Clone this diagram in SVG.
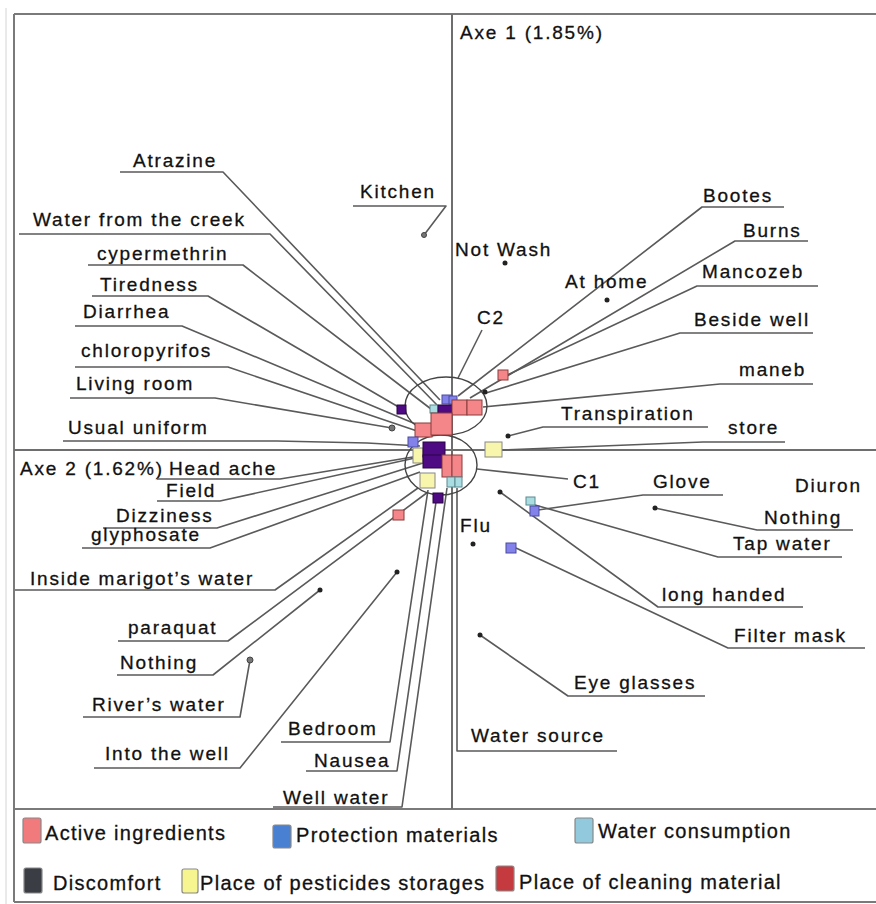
<svg xmlns="http://www.w3.org/2000/svg" width="876" height="904" viewBox="0 0 876 904">
<style>
text{font-family:"Liberation Sans",Arial,sans-serif;font-size:19px;letter-spacing:1.8px;fill:#111;stroke:#111;stroke-width:0.3px}
.lg{font-size:20px;letter-spacing:1.3px}
.frame{stroke:#7a7a7a;stroke-width:2;fill:none}
.axis{stroke:#6e6e6e;stroke-width:2;fill:none}
#connectors polyline{fill:none;stroke:#5a5a5a;stroke-width:1.6;stroke-linejoin:round}
.ell{fill:none;stroke:#444;stroke-width:1.4}
.dot{fill:#222}
.gdot{fill:#777;stroke:#444;stroke-width:1}
.pk{fill:#f4868a;stroke:#8a3a3a;stroke-width:1}
.pu{fill:#4e0a82;stroke:#2a0545;stroke-width:1}
.bl{fill:#8282ea;stroke:#4a4aa0;stroke-width:1}
.cy{fill:#a9dde2;stroke:#5a8a90;stroke-width:1}
.ye{fill:#f8f5ac;stroke:#888;stroke-width:1}
.sw{stroke:#888;stroke-width:1.2}
</style>
<line x1="6" y1="8" x2="6" y2="904" stroke="#d4d4d4" stroke-width="1"/>
<g id="frame">
<line class="frame" x1="14" y1="14" x2="876" y2="14"/>
<line class="frame" x1="14" y1="14" x2="14" y2="902"/>
<line class="frame" x1="14" y1="809" x2="876" y2="809"/>
<line class="frame" x1="14" y1="902" x2="876" y2="902"/>
<line class="axis" x1="452" y1="14" x2="452" y2="809"/>
<line class="axis" x1="14" y1="450" x2="876" y2="450"/>
<text x="460" y="39">Axe 1 (1.85%)</text>
<text x="20" y="475">Axe 2 (1.62%)</text>
</g>
<g id="connectors">
<polyline points="120,172 223,172 440,400"/>
<polyline points="353,206 446,206 424,235"/>
<polyline points="19,234 270,234 437,405"/>
<polyline points="88,265 243,265 431,409"/>
<polyline points="92,296 208,296 402,409"/>
<polyline points="75,326 182,326 418,425"/>
<polyline points="75,367 228,367 420,432"/>
<polyline points="70,398 215,398 392,428"/>
<polyline points="63,441 277,441 367,443 420,446"/>
<polyline points="157,479 280,479 425,455"/>
<polyline points="157,501 220,501 415,458"/>
<polyline points="103,528 217,528 423,463"/>
<polyline points="82,548 210,548 420,472"/>
<polyline points="15,590 275,590 418,488"/>
<polyline points="118,641 228,641 428,492"/>
<polyline points="117,675 213,675 320,590"/>
<polyline points="83,717 240,717 250,660"/>
<polyline points="94,768 240,768 397,572"/>
<polyline points="281,742 390,742 428,490"/>
<polyline points="306,771 397,771 436,502"/>
<polyline points="273,807 402,807 447,488"/>
<polyline points="617,751 457,751 457,488"/>
<polyline points="784,207 702,207 458,396"/>
<polyline points="808,241 735,241 470,398"/>
<polyline points="818,286 697,286 505,376"/>
<polyline points="813,333 680,333 486,393"/>
<polyline points="813,384 720,384 483,407"/>
<polyline points="482,330 458,378"/>
<polyline points="708,427 543,427 508,436"/>
<polyline points="785,442 703,442 502,450"/>
<polyline points="568,479 477,469"/>
<polyline points="723,495 643,495 538,510"/>
<polyline points="853,530 757,530 655,508"/>
<polyline points="842,557 718,557 535,505"/>
<polyline points="803,607 658,607 500,492"/>
<polyline points="865,648 728,648 516,548"/>
<polyline points="705,696 568,696 480,635"/>
</g>
<g id="clusters">
<ellipse id="C2-circle" class="ell" cx="446" cy="406" rx="41" ry="29"/>
<ellipse id="C1-circle" class="ell" cx="441" cy="465" rx="36" ry="30"/>
</g>
<g id="markers">
<rect class="pk" x="498" y="370" width="10" height="10"/>
<rect class="pu" x="397" y="405" width="9" height="9"/>
<rect class="bl" x="442" y="395" width="10" height="9"/>
<rect class="bl" x="449" y="396" width="8" height="8"/>
<rect class="cy" x="430" y="405" width="8" height="8"/>
<rect class="pu" x="438" y="405" width="14" height="9"/>
<rect class="pk" x="452" y="400" width="15" height="15"/>
<rect class="pk" x="467" y="400" width="15" height="15"/>
<rect class="pk" x="415" y="423" width="17" height="14"/>
<rect class="pk" x="431" y="413" width="21" height="22"/>
<rect class="bl" x="408" y="437" width="10" height="10"/>
<rect class="ye" x="413" y="448" width="10" height="15"/>
<rect class="pu" x="423" y="442" width="22" height="15"/>
<rect class="pu" x="423" y="455" width="19" height="13"/>
<rect class="pk" x="442" y="455" width="10" height="22"/>
<rect class="pk" x="452" y="455" width="10" height="22"/>
<rect class="ye" x="420" y="473" width="15" height="15"/>
<rect class="cy" x="447" y="477" width="8" height="10"/>
<rect class="cy" x="455" y="477" width="7" height="10"/>
<rect class="pu" x="433" y="493" width="10" height="10"/>
<rect class="pk" x="393" y="510" width="11" height="10"/>
<rect class="ye" x="485" y="442" width="17" height="15"/>
<rect class="cy" x="526" y="497" width="9" height="8"/>
<rect class="bl" x="530" y="506" width="9" height="10"/>
<rect class="bl" x="506" y="543" width="10" height="10"/>
<circle class="gdot" cx="424" cy="235" r="2.5"/>
<circle class="dot" cx="505" cy="263" r="2.5"/>
<circle class="dot" cx="607" cy="300" r="2.5"/>
<circle class="gdot" cx="392" cy="428" r="3"/>
<circle class="dot" cx="485" cy="392" r="2.5"/>
<circle class="dot" cx="508" cy="436" r="2.5"/>
<circle class="dot" cx="500" cy="492" r="2.5"/>
<circle class="dot" cx="473" cy="544" r="2.5"/>
<circle class="dot" cx="655" cy="508" r="2.5"/>
<circle class="dot" cx="320" cy="590" r="2.5"/>
<circle class="gdot" cx="250" cy="660" r="3"/>
<circle class="dot" cx="397" cy="572" r="2.5"/>
<circle class="dot" cx="480" cy="635" r="2.5"/>
</g>
<g id="labels">
<g id="n-atrazine"><text x="133" y="167">Atrazine</text></g>
<g id="n-kitchen"><text x="360" y="198">Kitchen</text></g>
<g id="n-creek"><text x="33" y="226">Water from the creek</text></g>
<g id="n-cypermethrin"><text x="97" y="260">cypermethrin</text></g>
<g id="n-tiredness"><text x="100" y="291">Tiredness</text></g>
<g id="n-diarrhea"><text x="83" y="318">Diarrhea</text></g>
<g id="n-chloropyrifos"><text x="81" y="357">chloropyrifos</text></g>
<g id="n-living"><text x="76" y="390">Living room</text></g>
<g id="n-uniform"><text x="68" y="434">Usual uniform</text></g>
<g id="n-headache"><text x="169" y="475">Head ache</text></g>
<g id="n-field"><text x="166" y="497">Field</text></g>
<g id="n-dizziness"><text x="116" y="522">Dizziness</text></g>
<g id="n-glyphosate"><text x="91" y="541">glyphosate</text></g>
<g id="n-marigot"><text x="30" y="585">Inside marigot’s water</text></g>
<g id="n-paraquat"><text x="128" y="634">paraquat</text></g>
<g id="n-nothing-l"><text x="120" y="669">Nothing</text></g>
<g id="n-river"><text x="92" y="711">River’s water</text></g>
<g id="n-intowell"><text x="105" y="760">Into the well</text></g>
<g id="n-bedroom"><text x="288" y="735">Bedroom</text></g>
<g id="n-nausea"><text x="314" y="767">Nausea</text></g>
<g id="n-wellwater"><text x="283" y="804">Well water</text></g>
<g id="n-watersource"><text x="471" y="742">Water source</text></g>
<g id="n-notwash"><text x="455" y="256">Not Wash</text></g>
<g id="n-athome"><text x="565" y="288">At home</text></g>
<g id="n-bootes"><text x="703" y="202">Bootes</text></g>
<g id="n-burns"><text x="743" y="237">Burns</text></g>
<g id="n-mancozeb"><text x="702" y="278">Mancozeb</text></g>
<g id="n-c2"><text x="477" y="324">C2</text></g>
<g id="n-besidewell"><text x="694" y="326">Beside well</text></g>
<g id="n-maneb"><text x="739" y="376">maneb</text></g>
<g id="n-transpiration"><text x="561" y="420">Transpiration</text></g>
<g id="n-store"><text x="728" y="434">store</text></g>
<g id="n-c1"><text x="573" y="488">C1</text></g>
<g id="n-glove"><text x="653" y="488">Glove</text></g>
<g id="n-diuron"><text x="795" y="492">Diuron</text></g>
<g id="n-nothing-r"><text x="764" y="524">Nothing</text></g>
<g id="n-flu"><text x="460" y="532">Flu</text></g>
<g id="n-tapwater"><text x="733" y="550">Tap water</text></g>
<g id="n-longhanded"><text x="662" y="601">long handed</text></g>
<g id="n-filtermask"><text x="734" y="642">Filter mask</text></g>
<g id="n-eyeglasses"><text x="574" y="689">Eye glasses</text></g>
</g>
<g id="legend">
<rect class="sw" x="23" y="818" width="18" height="25" rx="2" fill="#f07a7c"/>
<text class="lg" x="45" y="840">Active ingredients</text>
<rect class="sw" x="273" y="825" width="18" height="23" rx="2" fill="#4a80d2"/>
<text class="lg" x="296" y="842">Protection materials</text>
<rect class="sw" x="575" y="818" width="18" height="25" rx="2" fill="#92c9dc"/>
<text class="lg" x="598" y="838">Water consumption</text>
<rect class="sw" x="24" y="868" width="18" height="25" rx="2" fill="#3a3d44"/>
<text class="lg" x="53" y="890">Discomfort</text>
<rect class="sw" x="182" y="869" width="16" height="24" rx="2" fill="#f7f590"/>
<text class="lg" x="200" y="890">Place of pesticides storages</text>
<rect class="sw" x="496" y="866" width="18" height="25" rx="2" fill="#c43a3e"/>
<text class="lg" x="519" y="889">Place of cleaning material</text>
</g>
</svg>
